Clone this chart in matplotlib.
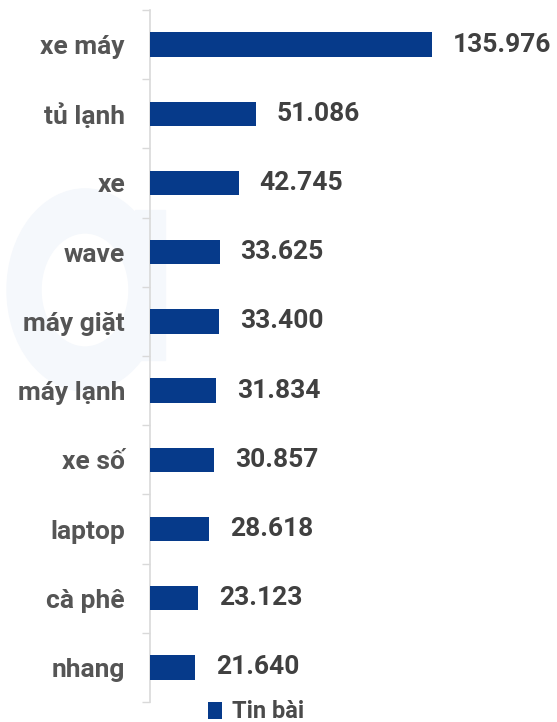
import matplotlib
matplotlib.use("Agg")
import matplotlib.pyplot as plt
from matplotlib.patches import Wedge, Rectangle

categories = ["xe máy", "tủ lạnh", "xe", "wave", "máy giặt", "máy lạnh", "xe số", "laptop", "cà phê", "nhang"]
values = [135976, 51086, 42745, 33625, 33400, 31834, 30857, 28618, 23123, 21640]
value_labels = ["135.976", "51.086", "42.745", "33.625", "33.400", "31.834", "30.857", "28.618", "23.123", "21.640"]
series_name = "Tin bài"

plt.rcParams['font.family'] = ['Roboto', 'DejaVu Sans']

W, H = 557, 722
fig = plt.figure(figsize=(W / 100, H / 100), dpi=100)

# faint watermark
wm = "#f5f8fc"
fig.patches.append(Wedge((85 / W, 1 - 290 / H), 78 / W, 0, 360, width=34 / W,
                         transform=fig.transFigure, color=wm, zorder=0))
fig.patches.append(Rectangle((135 / W, 1 - 360 / H), 30 / W, 150 / H,
                             transform=fig.transFigure, color=wm, zorder=0))

ax = fig.add_axes([150 / W, 20 / H, (W - 150) / W, 692 / H])
ax.set_zorder(2)
ax.patch.set_alpha(0)
bar_color = "#063a8a"
ypos = list(range(len(categories)))
bars = ax.barh(ypos, values, height=0.35, color=bar_color, zorder=3, label=series_name)
ax.set_ylim(len(categories) - 0.5, -0.5)
ax.set_xlim(0, 135976 * 407 / 282)

for y, v, lab in zip(ypos, values, value_labels):
    ax.annotate(lab, xy=(v, y), xytext=(15, 0), textcoords="offset points",
                va="center", ha="left", fontsize=19, fontweight="bold", color="#404040")

ax.set_yticks(ypos)
ax.set_yticklabels(categories, fontsize=19, fontweight="bold", color="#555555")
ax.tick_params(axis="y", which="major", length=0, pad=18)
ax.set_yticks([i - 0.5 for i in range(len(categories) + 1)], minor=True)
ax.tick_params(axis="y", which="minor", length=6, color="#d9d9d9", width=1)
ax.set_xticks([])
for s in ["top", "right", "bottom"]:
    ax.spines[s].set_visible(False)
ax.spines["left"].set_color("#d9d9d9")
ax.spines["left"].set_linewidth(1.2)

leg = fig.legend(handles=[bars], labels=[series_name], loc="center", bbox_to_anchor=(256 / W, 1 - 712 / H),
                 frameon=False, handlelength=0.6, handleheight=0.7, handletextpad=0.45,
                 prop={"weight": "bold", "size": 17}, labelcolor="#4a4a4a")
leg.set_zorder(3)

fig.savefig("out.png", dpi=100)
